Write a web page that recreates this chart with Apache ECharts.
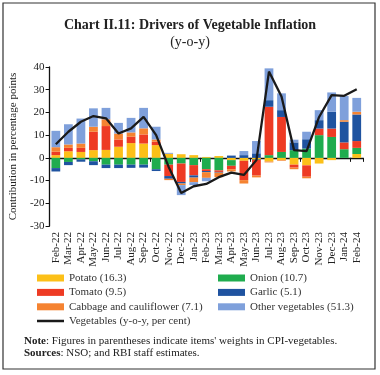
<!DOCTYPE html>
<html>
<head>
<meta charset="utf-8">
<script src="https://cdn.jsdelivr.net/npm/echarts@6.0.0/dist/echarts.min.js"></script>
<style>
  html, body { margin: 0; padding: 0; background: #fff; }
  #chart { width: 380px; height: 375px; }
</style>
</head>
<body>
<div id="chart"></div>
<script>
// months on the x axis
const months = ['Feb-22', 'Mar-22', 'Apr-22', 'May-22', 'Jun-22', 'Jul-22', 'Aug-22', 'Sep-22', 'Oct-22',
  'Nov-22', 'Dec-22', 'Jan-23', 'Feb-23', 'Mar-23', 'Apr-23', 'May-23', 'Jun-23', 'Jul-23', 'Aug-23',
  'Sep-23', 'Oct-23', 'Nov-23', 'Dec-23', 'Jan-24', 'Feb-24']

// contributions in percentage points
const potato = [1.2, 2.9, 2.6, 3.4, 3.5, 4.9, 6.5, 6.3, 5.6, 1.8, 1.6, 1.2, 0.4, 0.8, -1, -1.3, -0.5, -1.6, -1, -3, -3.3, -2.5, -1, 0, 1.7]
const onion = [-4.5, -1.8, -0.7, -1.5, -3, -3, -3, -3, -5, -3, -2.5, -3.2, -5, -5.5, -2.5, 0, -0.3, 1.2, 2.6, 3.4, 4.1, 10, 9.2, 3.8, 2.7]
const tomato = [1.5, 1.5, 1.8, 8.1, 10.5, 3.2, 2.8, 4, 1.5, -5, -8.1, -4.5, -0.8, -0.7, -1.5, -8.5, -7, 21.3, 15.4, -1.3, -5, 2.9, 3.7, 3, 3]
const garlic = [-1.5, -1.4, -1, -1.7, -1.5, -1.5, -1.4, -1.3, -0.8, -1.2, -0.7, -1, -0.5, -0.3, 1, 1.2, 2, 2.9, 3, 3.4, 4.1, 3.7, 7.4, 9.1, 11.7]
const cabbage = [2, 1.5, 1.9, 2.2, 3, 2.6, 1.9, 2.7, 1, -0.6, -0.7, -2, -2.5, -2, -1, -1.5, -0.8, -0.4, -0.3, -0.7, -0.7, 0, 0, 0.7, 1.2]
const others = [7.2, 8.9, 11, 8.1, 5, 4.7, 6.4, 9, 5.6, 0.4, -4.4, -1.3, -1.5, 0, 0, 1.8, 5.4, 14, 7.4, 1.2, 3.3, 4.4, 8.5, 10.6, 6.1]

// vegetables inflation, y-o-y per cent
const vegetables = [6, 11.5, 15.9, 18.4, 17.4, 10.7, 13, 18, 10, -4, -15.5, -12.5, -11.5, -8.5, -6.5, -7.5, -1, 38, 27, 3.4, 3, 18, 27.6, 27.3, 30.2]

const colors = {
  potato: '#fcc018',
  onion: '#1fac4e',
  tomato: '#ee3b24',
  garlic: '#1f53a0',
  cabbage: '#f58331',
  others: '#7fa0db',
  line: '#1a1a1a'
}

const chart = echarts.init(document.getElementById('chart'))

const barSeries = (name, data, color) => ({
  name,
  type: 'bar',
  stack: 'veg',
  barCategoryGap: '30%',
  data,
  itemStyle: { color }
})

const lineData = vegetables.map((v, i) => i === vegetables.length - 1
  ? { value: v, label: { show: true, position: 'top', formatter: '30.2', fontSize: 12, color: '#222', distance: 3 } }
  : v)

const legendText = { fontSize: 11, lineHeight: 12, color: '#333', fontFamily: 'Liberation Serif' }

const option = {
  animation: false,
  textStyle: { fontFamily: 'Liberation Serif' },
  title: {
    text: 'Chart II.11: Drivers of Vegetable Inflation',
    subtext: '(y-o-y)',
    left: 'center',
    top: 13,
    itemGap: 3,
    textStyle: { fontSize: 14, fontWeight: 'bold', color: '#222', fontFamily: 'Liberation Serif' },
    subtextStyle: { fontSize: 14, color: '#222', fontFamily: 'Liberation Serif' }
  },
  legend: [
    {
      orient: 'vertical',
      left: 32,
      top: 267,
      icon: 'rect',
      itemWidth: 27,
      itemHeight: 7,
      itemGap: 2.4,
      textStyle: legendText,
      data: ['Potato (16.3)', 'Tomato (9.5)', 'Cabbage and cauliflower (7.1)']
    },
    {
      orient: 'vertical',
      left: 213,
      top: 267,
      icon: 'rect',
      itemWidth: 27,
      itemHeight: 7,
      itemGap: 2.4,
      textStyle: legendText,
      data: ['Onion (10.7)', 'Garlic (5.1)', 'Other vegetables (51.3)']
    },
    {
      left: 32,
      top: 310,
      itemWidth: 27,
      itemHeight: 2.5,
      icon: 'rect',
      textStyle: legendText,
      data: ['Vegetables (y-o-y, per cent)']
    }
  ],
  grid: {
    left: 43,
    right: 17,
    top: 67,
    bottom: 149
  },
  xAxis: [
    {
      type: 'category',
      data: months,
      position: 'bottom',
      axisLine: { show: false, onZero: false },
      axisTick: { show: false },
      axisLabel: { rotate: 90, fontSize: 11, color: '#222', margin: 6, interval: 0 }
    },
    {
      type: 'category',
      data: months,
      position: 'bottom',
      axisLine: { onZero: true, lineStyle: { color: '#111', width: 1.3 } },
      axisTick: { show: true, length: 4, lineStyle: { color: '#111' } },
      axisLabel: { show: false }
    }
  ],
  yAxis: {
    type: 'value',
    min: -30,
    max: 40,
    interval: 10,
    name: 'Contribution in percentage points',
    nameLocation: 'middle',
    nameGap: 20,
    nameTextStyle: { fontSize: 11, color: '#222' },
    axisLine: { show: true, lineStyle: { color: '#111', width: 1.3 } },
    axisTick: { show: true, length: 4, lineStyle: { color: '#111' } },
    axisLabel: { fontSize: 11, color: '#222', margin: 5 },
    splitLine: { show: false }
  },
  series: [
    barSeries('Potato (16.3)', potato, colors.potato),
    barSeries('Onion (10.7)', onion, colors.onion),
    barSeries('Tomato (9.5)', tomato, colors.tomato),
    barSeries('Garlic (5.1)', garlic, colors.garlic),
    barSeries('Cabbage and cauliflower (7.1)', cabbage, colors.cabbage),
    barSeries('Other vegetables (51.3)', others, colors.others),
    {
      name: 'Vegetables (y-o-y, per cent)',
      type: 'line',
      data: lineData,
      symbol: 'none',
      z: 5,
      lineStyle: { color: colors.line, width: 2.3 },
      itemStyle: { color: colors.line }
    }
  ],
  graphic: [
    {
      type: 'rect',
      shape: { x: 3, y: 3, width: 372, height: 366 },
      style: { fill: 'none', stroke: '#333', lineWidth: 1.2 },
      silent: true
    },
    {
      type: 'text',
      left: 24,
      top: 336,
      style: {
        text: '{b|Note}: Figures in parentheses indicate items\' weights in CPI-vegetables.',
        rich: { b: { fontWeight: 'bold', fontSize: 11, fontFamily: 'Liberation Serif', fill: '#222' } },
        fontSize: 11,
        fontFamily: 'Liberation Serif',
        fill: '#222'
      }
    },
    {
      type: 'text',
      left: 24,
      top: 348,
      style: {
        text: '{b|Sources}: NSO; and RBI staff estimates.',
        rich: { b: { fontWeight: 'bold', fontSize: 11, fontFamily: 'Liberation Serif', fill: '#222' } },
        fontSize: 11,
        fontFamily: 'Liberation Serif',
        fill: '#222'
      }
    }
  ]
}

chart.setOption(option)
</script>
</body>
</html>
